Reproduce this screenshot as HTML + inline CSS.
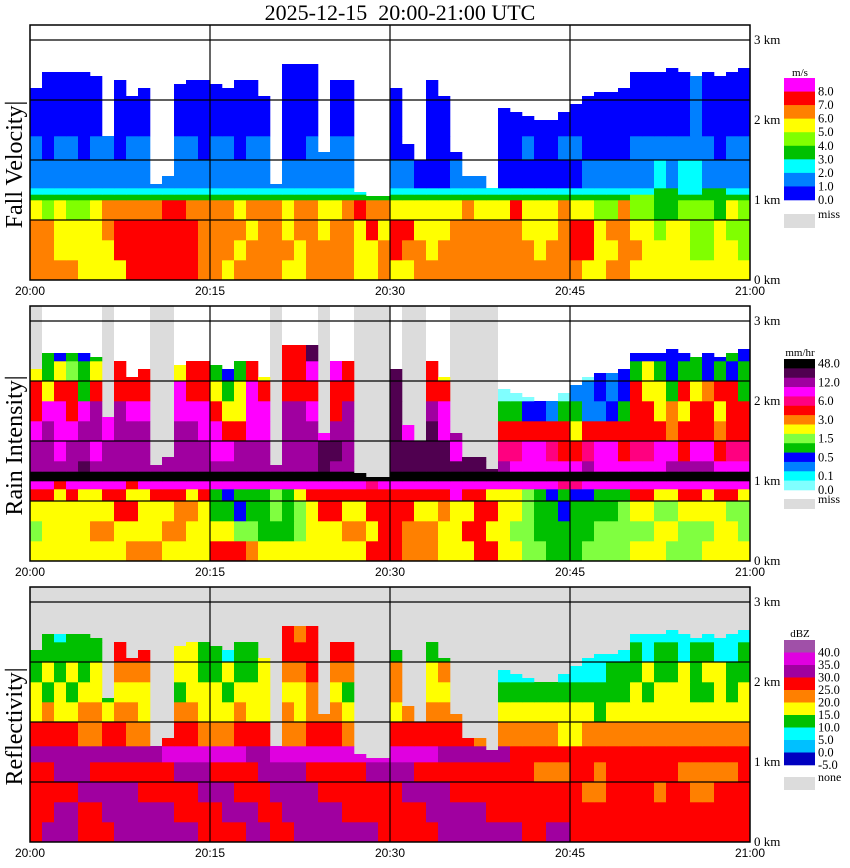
<!DOCTYPE html>
<html><head><meta charset="utf-8">
<style>
html,body{margin:0;padding:0;background:#fff;}
svg{display:block;font-family:"Liberation Serif",serif;}
</style></head>
<body>
<svg id="chart" width="850" height="868" viewBox="0 0 850 868" xmlns="http://www.w3.org/2000/svg">
<text x="400" y="20" text-anchor="middle" font-size="22">2025-12-15&#160;&#160;20:00-21:00 UTC</text>
</svg>
<script>
// ---- time axis: one column per minute ----
const minutes = Array.from({length:60},(_,i)=>i);
const timeTicks = ["20:00","20:15","20:30","20:45","21:00"];
const tickMinutes = [0,15,30,45,60];
const kmLabels = ["3 km","2 km","1 km","0 km"];
const kmLabelValues = [3,2,1,0];
const gridKm = [3,2.25,1.5,0.75];

// echo top heights (km) per minute
const echoTop = [2.4,2.6,2.6,2.6,2.6,2.55,1.8,2.5,2.3,2.4,1.2,1.3,2.45,2.5,2.5,2.45,2.4,2.5,2.5,2.3,1.2,2.7,2.7,2.7,1.6,2.5,2.5,1.1,1.05,1.05,2.4,1.7,1.5,2.5,2.3,1.6,1.3,1.3,1.15,2.15,2.1,2.05,2.0,2.0,2.1,2.2,2.3,2.35,2.35,2.4,2.6,2.6,2.6,2.65,2.6,2.55,2.6,2.55,2.6,2.65];
// rain-intensity panel: 1 = missing (gray) above echo top
const missCols = [1,0,0,0,0,0,1,0,0,0,1,1,0,0,0,0,0,0,0,0,1,0,0,0,1,0,0,1,1,1,0,1,1,0,0,1,1,1,1,0,0,0,0,0,0,0,0,0,0,0,0,0,0,0,0,0,0,0,0,0];

// Fall velocity: row edges (km) and color-code rows (bottom -> top)
const fvEdges = [0,0.25,0.5,0.75,1.0,1.07,1.15,1.5,1.8,3.2];
const fvRows = [
 "OOOOYYYYRRRRRROOYOOOOYYOOOOYYOYYOOOOOOOOOOOOOOYYOOYYYYYYYYYY",
 "OOYYYYYRRRRRRROOOYOOOOYOOOOYYOROOYOOOOOOOOYOORRYYOOYYYYLLYYL",
 "OOYYYYORRRRRRROOOOYOOYOOYOOYRYRRYYYOOOOOOYYYORRYOOYYLYYLLYLL",
 "YLYLLYOOOOORROOOOYOOOYOOYYOROOYYYYYYOYYYRYYYOYYLLOLLGGLLLGYL",
 "GGGGGGGGGGGGGGGGGGGGGGGGGGGGGGGGGGGGGGGGGGGGGGGGGGLLGGGGGGGG",
 "CCCCCCCCCCCCCCCCCCCCCCCCCCCCCCCCCCCCCCCCCCCCCCCCCCCCGGCCGGCC",
 "AAAAAAAAAAAAAAAAAAAAAAAAAAAAAAAABBBAAABBBBBBBBAAAAAACACCAAAA",
 "ABAABAABAAABAABAABAABBBAAAABBBBBBBBBBBBBBABBAABBBBAAAAAAABAA",
 "BBBBBBBBBBBBBBBBBBBBBBBBBBBBBBBBBBBBBBBBBBBBBBBBBBBBBBBABBBB"
];
// Rain intensity
const riEdges = [0,0.25,0.5,0.75,0.9,1.0,1.12,1.25,1.5,1.75,2.0,2.25,2.5,3.2];
const riRows = [
 "YYYYYYYYOOOYYYYRRROYYYYYYYYYRRROOOYYYRRYYLLGGGLLLLYYYLLLYYYY",
 "LYYYYOOYYYYOOYYYYLLGGGLYYYOOYRROOOYYRRYYLLGGGGGLLLLLYYLLLYYL",
 "YYYYYYYRRYYYOOYGGBGGLGLYRRYYRRRRYYOYYRRYYLGGBGGGGLYYLLYYYYLL",
 "RRYRYYRRYYRRRYRGBGGGLGYRRRRRRRRRRRRMRRYYYLGBGBBGGGRRYYRRYRRY",
 "MMRMMMMMRMMMMMMMMMMMMMMMMMMMNMMMMMMMMMMMMMMMNNMMMMMMMMMMMMMM",
 "KKKKKKKKKKKKKKKKKKKKKKKKKKKKKKKKKKKKKKKKKKKKKKKKKKKKKKKKKKKK",
 "PPPPDPPPPPPPPPPPPPPPPPPPDPPPPDDDDDDDDDDPMMMMMMPMMMMMMPPPPMMM",
 "PPMPPMPPPPPPPPPMMPPPPPPPDDPPPDDDDDDMDDDNNMMNRRNMMRNNMMRMMRNN",
 "MPMMPPMPPPPPPPMMRRMMPPPPMPPPDDDMBDMPDDDRRRRRRYRRRRRRRORRRORR",
 "RMMRMPMPMMMPMMMRYYMMPPPMPRPPMPDMDPMPMMDGGBBAGGAABGRRYOYRRYRR",
 "RYRRGRRRRRRMMRRYGYMRRRRRMRRMRDDRMRRPMDDEEEEEEAABABRYYGRYORRG",
 "YGYLGYYRRRRRYRRGBGRYRRRMRMRYRDDRYRYRDDDEEEEEEBEBABGYGBGGBGBG",
 "GGBGBGGYRRGGYRGBBGGYGRRDRMRRRDDRGGGRDDDEEEEEEBEEBBBBBBBGBBGB"
];
// Reflectivity
const rfEdges = [0,0.25,0.5,0.75,1.0,1.2,1.5,1.75,2.0,2.25,2.5,3.2];
const rfRows = [
 "RPPPRRRPPPPPPPRRRRPPRRPPPPPPPRRRRRPPPPPPPRRPPRRRRRRRRRRRRRRR",
 "RRPPRRPPPPPPRRRRPPPRRPPPPPRRRRRRRPPPPPRRRRRRRRRRRRRRRRRRRRRR",
 "RRRRPPPPPRRRRRPPPRRRPPPPRRRRRRRPPPPRRRRRRRRRRROORRRRORROORRR",
 "RRPPPRRRRRRRPPPRRRRPPPPRRRRRPPPPRRRRRRRRRROOORRORRRRRROOOOOR",
 "PPPPPPPPPPPMMMMMMMPPMMMMMMMMMMMMMMPPPPPPRRRRRRRRRRRRRRRRRRRR",
 "RRRROORROOORRROOORRRROORRROORRRRRRRRROOOOOOOYYOOOOOOOOOOOOOO",
 "YOYYOOYOOYYYOOYYYOYYYOYOOOYOYYYOYOOOORYYYYYYYYYGYYYYYYYYYYYY",
 "YGYGYYGYYYYGGYYYGYYYGYYOOYGYYYOOGYYYOGYGGGGGGGGGGGYGYYYGGYGY",
 "GYGYGYYOOOYYYYGGYGGYGOORGOORYGOOGYOOOGGCCCCCCCCCGGGYGGYGYYGG",
 "GGGGGGGRRRYGYYGGCGGYGRRRORRGGGGRGGGRRRGCCCCCCCCCCCGCGGCGGCCG",
 "GGCGGGGOOOGGGOGCCGGCGRORORRGGGGRGGGRRRGCCCCCCCCCCCCCCCCCCCCC"
];
const fvColors = {O:"#ff8000",Y:"#ffff00",R:"#ff0000",L:"#80ff00",G:"#00c000",C:"#00ffff",A:"#0080ff",B:"#0000ff",M:"#ff00ff"};
const riColors = {K:"#000000",D:"#500050",P:"#a000a0",M:"#ff00ff",N:"#ff0080",R:"#ff0000",O:"#ff8000",Y:"#ffff00",L:"#80ff40",G:"#00c000",B:"#0000ff",A:"#0080ff",C:"#00ffff",E:"#80ffff"};
const rfColors = {V:"#a050a8",M:"#e000e0",P:"#a000a0",R:"#ff0000",O:"#ff8000",Y:"#ffff00",G:"#00c000",C:"#00ffff",S:"#00c0ff",B:"#0000c0"};

// legends
const fvLegColors = ["#ff00ff","#ff0000","#ff8000","#ffff00","#80ff00","#00c000","#00ffff","#0080ff","#0000ff"];
const fvLegLabels = ["8.0","7.0","6.0","5.0","4.0","3.0","2.0","1.0","0.0"];
const riLegColors = ["#000000","#500050","#a000a0","#ff00ff","#ff0080","#ff0000","#ff8000","#ffff00","#80ff40","#00c000","#0000ff","#0080ff","#00ffff","#80ffff"];
const riLegLabels = ["48.0","12.0","6.0","3.0","1.5","0.5","0.1","0.0"];
const riLegLabelIdx = [0.5,2.5,4.5,6.5,8.5,10.5,12.5,14];
const rfLegColors = ["#a050a8","#e000e0","#a000a0","#ff0000","#ff8000","#ffff00","#00c000","#00ffff","#00c0ff","#0000c0"];
const rfLegLabels = ["40.0","35.0","30.0","25.0","20.0","15.0","10.0","5.0","0.0","-5.0"];

const NS="http://www.w3.org/2000/svg";
const svg=document.getElementById("chart");
function mk(tag,attrs,parent){const e=document.createElementNS(NS,tag);for(const k in attrs)e.setAttribute(k,attrs[k]);(parent||svg).appendChild(e);return e;}

const X0=30,X1=750;
function xScale(m){return X0+(X1-X0)*m/60;}

const panels=[
 {name:"fall-velocity",title:"Fall Velocity",top:25,bottom:280,edges:fvEdges,rows:fvRows,colors:fvColors,bg:"#ffffff",miss:null,
  leg:{colors:fvLegColors,labels:fvLegLabels,y0:78,y1:200,unit:"m/s",unitY:76,missY:214,missH:14,missLabel:"miss"}},
 {name:"rain-intensity",title:"Rain Intensity",top:306,bottom:561,edges:riEdges,rows:riRows,colors:riColors,bg:"#ffffff",miss:missCols,
  leg:{colors:riLegColors,labels:riLegLabels,labelIdx:riLegLabelIdx,y0:359,y1:490,unit:"mm/hr",unitY:356,missY:499,missH:10,missLabel:"miss"}},
 {name:"reflectivity",title:"Reflectivity",top:587,bottom:842,edges:rfEdges,rows:rfRows,colors:rfColors,bg:"#dcdcdc",miss:null,
  leg:{colors:rfLegColors,labels:rfLegLabels,y0:640,y1:765,unit:"dBZ",unitY:637,missY:777,missH:13,missLabel:"none"}}
];

panels.forEach(p=>{
 const yScale=km=>p.bottom-80*km;
 const g=mk("g",{});
 
 
 const bg=mk("rect",{x:X0,y:p.top,width:X1-X0,height:p.bottom-p.top,fill:p.bg},g);
 
 
 // missing columns
 if(p.miss){
  minutes.forEach(i=>{ if(p.miss[i]){
   const r=mk("rect",{x:xScale(i),y:p.top,width:xScale(i+1)-xScale(i),height:yScale(echoTop[i])-p.top,fill:"#dcdcdc"},g);
   
   
  }});
 }
 // cells
 p.rows.forEach((row,ri)=>{
  const lo=p.edges[ri], hi=p.edges[ri+1];
  minutes.forEach(i=>{
   const top=Math.min(hi,echoTop[i]);
   if(lo>=top && lo>=1.0) return;
   const ch=row[i]||row[row.length-1];
   const yT=yScale(Math.max(top,lo)), yB=yScale(lo);
   const c=mk("rect",{x:xScale(i),y:Math.max(yT,p.top),width:xScale(i+1)-xScale(i)+0.3,height:Math.max(0,yB-Math.max(yT,p.top))+0.3,fill:p.colors[ch]||"#fff"},g);
   
   
  });
 });
 // grid
 gridKm.forEach(k=>{
  const l=mk("line",{x1:X0,x2:X1,y1:yScale(k),y2:yScale(k),stroke:"#000","stroke-width":1.2},g);
  
  
 });
 tickMinutes.slice(1,4).forEach(m=>{
  const l=mk("line",{x1:xScale(m),x2:xScale(m),y1:p.top,y2:p.bottom,stroke:"#000","stroke-width":1.2},g);
  
  
 });
 const fr=mk("rect",{x:X0,y:p.top,width:X1-X0,height:p.bottom-p.top,fill:"none",stroke:"#000","stroke-width":1.5},g);
 
 
 // time tick labels
 tickMinutes.forEach((m,k)=>{
  const t=mk("text",{x:xScale(m),y:p.bottom+15,"text-anchor":"middle","font-size":12,"font-family":"Liberation Sans, sans-serif"},g);
  t.textContent=timeTicks[k];
  
  
 });
 // km labels
 kmLabelValues.forEach((v,k)=>{
  const t=mk("text",{x:X1+4,y:yScale(v)+4,"font-size":13},g);
  t.textContent=kmLabels[k];
  
  
 });
 // y title
 const cy=(p.top+p.bottom)/2+12;
 const yt=mk("text",{x:0,y:0,"text-anchor":"middle","font-size":24,transform:`translate(22,${cy}) rotate(-90)`},g);
 yt.textContent=p.title+"|";
 
 
 // legend
 const L=p.leg, n=L.colors.length, h=(L.y1-L.y0)/n;
 const lg=mk("g",{},g);
 
 
 L.colors.forEach((c,k)=>{
  const r=mk("rect",{x:784,y:L.y0+k*h,width:31,height:h+0.3,fill:c},lg);
  
  
 });
 L.labels.forEach((s,k)=>{
  const idx=L.labelIdx?L.labelIdx[k]:k+1;
  const t=mk("text",{x:818,y:L.y0+idx*h+4,"font-size":12.5},lg);
  t.textContent=s;
  
  
 });
 const u=mk("text",{x:800,y:L.unitY,"text-anchor":"middle","font-size":11},lg);
 u.textContent=L.unit;
 
 
 const mr=mk("rect",{x:784,y:L.missY,width:31,height:L.missH,fill:"#dcdcdc"},lg);
 
 
 const mt=mk("text",{x:818,y:L.missY+4,"font-size":12},lg);
 mt.textContent=L.missLabel;
 
 
});
</script>
</body></html>
